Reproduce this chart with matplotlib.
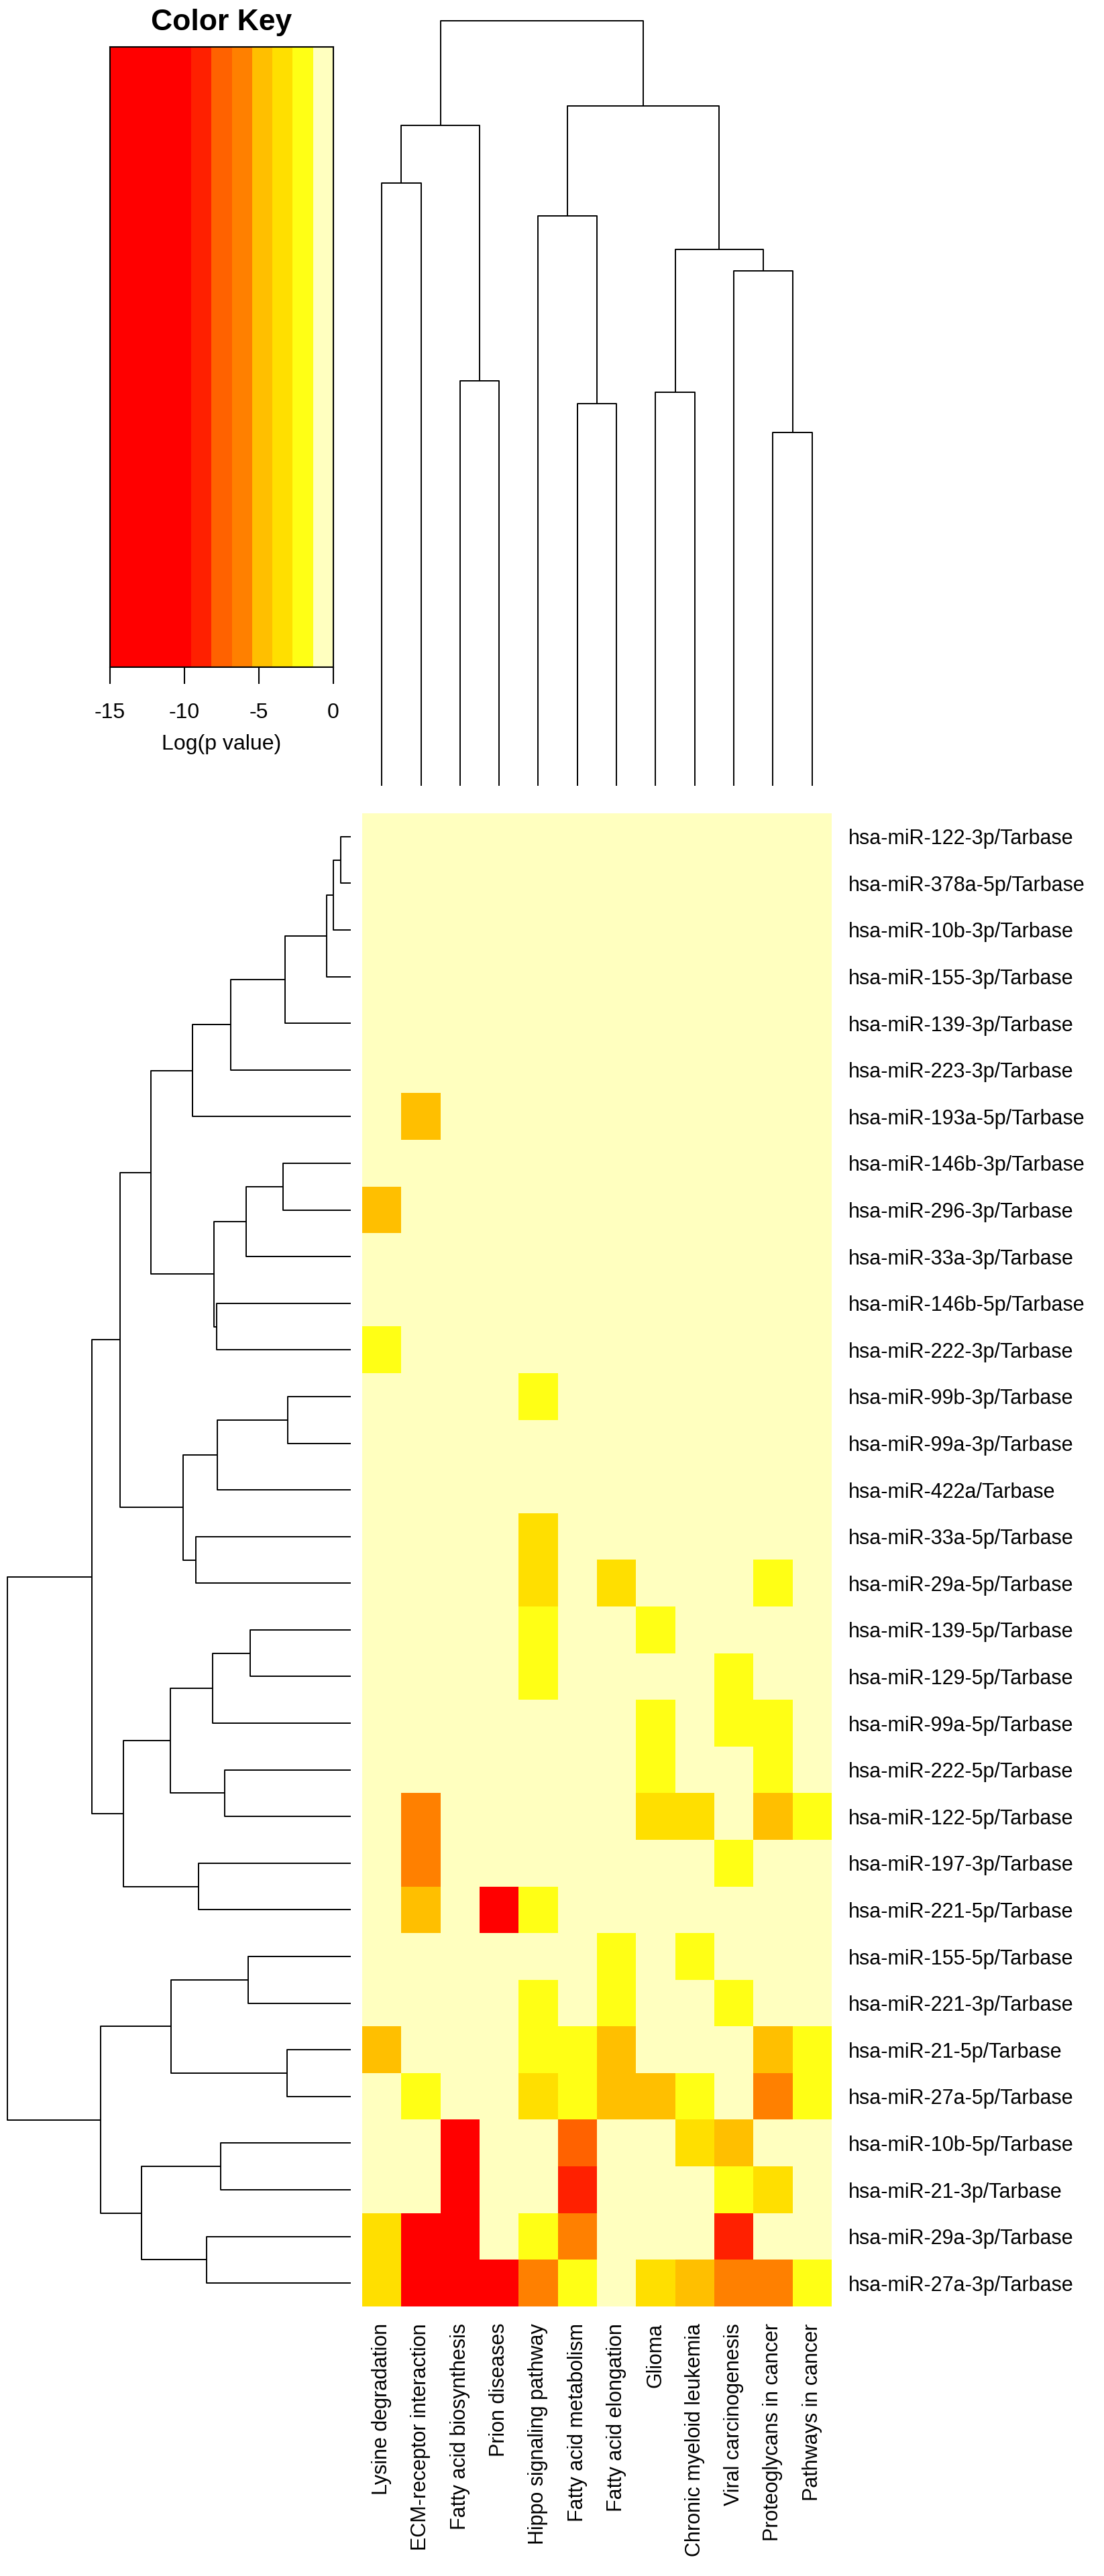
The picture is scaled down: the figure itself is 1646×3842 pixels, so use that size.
import numpy as np
import matplotlib
matplotlib.use('Agg')
import matplotlib.pyplot as plt
from matplotlib.colors import ListedColormap, BoundaryNorm

plt.rcParams['font.family'] = ['Liberation Sans', 'DejaVu Sans']

W, H = 1646, 3842

pathways = ['Lysine degradation', 'ECM-receptor interaction', 'Fatty acid biosynthesis',
            'Prion diseases', 'Hippo signaling pathway', 'Fatty acid metabolism',
            'Fatty acid elongation', 'Glioma', 'Chronic myeloid leukemia',
            'Viral carcinogenesis', 'Proteoglycans in cancer', 'Pathways in cancer']

mirnas = ['hsa-miR-122-3p/Tarbase', 'hsa-miR-378a-5p/Tarbase', 'hsa-miR-10b-3p/Tarbase',
          'hsa-miR-155-3p/Tarbase', 'hsa-miR-139-3p/Tarbase', 'hsa-miR-223-3p/Tarbase',
          'hsa-miR-193a-5p/Tarbase', 'hsa-miR-146b-3p/Tarbase', 'hsa-miR-296-3p/Tarbase',
          'hsa-miR-33a-3p/Tarbase', 'hsa-miR-146b-5p/Tarbase', 'hsa-miR-222-3p/Tarbase',
          'hsa-miR-99b-3p/Tarbase', 'hsa-miR-99a-3p/Tarbase', 'hsa-miR-422a/Tarbase',
          'hsa-miR-33a-5p/Tarbase', 'hsa-miR-29a-5p/Tarbase', 'hsa-miR-139-5p/Tarbase',
          'hsa-miR-129-5p/Tarbase', 'hsa-miR-99a-5p/Tarbase', 'hsa-miR-222-5p/Tarbase',
          'hsa-miR-122-5p/Tarbase', 'hsa-miR-197-3p/Tarbase', 'hsa-miR-221-5p/Tarbase',
          'hsa-miR-155-5p/Tarbase', 'hsa-miR-221-3p/Tarbase', 'hsa-miR-21-5p/Tarbase',
          'hsa-miR-27a-5p/Tarbase', 'hsa-miR-10b-5p/Tarbase', 'hsa-miR-21-3p/Tarbase',
          'hsa-miR-29a-3p/Tarbase', 'hsa-miR-27a-3p/Tarbase']

# log(p value), rows = mirnas, cols = pathways
log_p = [
    [-0.5, -0.5, -0.5, -0.5, -0.5, -0.5, -0.5, -0.5, -0.5, -0.5, -0.5, -0.5],
    [-0.5, -0.5, -0.5, -0.5, -0.5, -0.5, -0.5, -0.5, -0.5, -0.5, -0.5, -0.5],
    [-0.5, -0.5, -0.5, -0.5, -0.5, -0.5, -0.5, -0.5, -0.5, -0.5, -0.5, -0.5],
    [-0.5, -0.5, -0.5, -0.5, -0.5, -0.5, -0.5, -0.5, -0.5, -0.5, -0.5, -0.5],
    [-0.5, -0.5, -0.5, -0.5, -0.5, -0.5, -0.5, -0.5, -0.5, -0.5, -0.5, -0.5],
    [-0.5, -0.5, -0.5, -0.5, -0.5, -0.5, -0.5, -0.5, -0.5, -0.5, -0.5, -0.5],
    [-0.5, -4.8, -0.5, -0.5, -0.5, -0.5, -0.5, -0.5, -0.5, -0.5, -0.5, -0.5],
    [-0.5, -0.5, -0.5, -0.5, -0.5, -0.5, -0.5, -0.5, -0.5, -0.5, -0.5, -0.5],
    [-4.8, -0.5, -0.5, -0.5, -0.5, -0.5, -0.5, -0.5, -0.5, -0.5, -0.5, -0.5],
    [-0.5, -0.5, -0.5, -0.5, -0.5, -0.5, -0.5, -0.5, -0.5, -0.5, -0.5, -0.5],
    [-0.5, -0.5, -0.5, -0.5, -0.5, -0.5, -0.5, -0.5, -0.5, -0.5, -0.5, -0.5],
    [-2.0, -0.5, -0.5, -0.5, -0.5, -0.5, -0.5, -0.5, -0.5, -0.5, -0.5, -0.5],
    [-0.5, -0.5, -0.5, -0.5, -2.0, -0.5, -0.5, -0.5, -0.5, -0.5, -0.5, -0.5],
    [-0.5, -0.5, -0.5, -0.5, -0.5, -0.5, -0.5, -0.5, -0.5, -0.5, -0.5, -0.5],
    [-0.5, -0.5, -0.5, -0.5, -0.5, -0.5, -0.5, -0.5, -0.5, -0.5, -0.5, -0.5],
    [-0.5, -0.5, -0.5, -0.5, -3.4, -0.5, -0.5, -0.5, -0.5, -0.5, -0.5, -0.5],
    [-0.5, -0.5, -0.5, -0.5, -3.4, -0.5, -3.4, -0.5, -0.5, -0.5, -2.0, -0.5],
    [-0.5, -0.5, -0.5, -0.5, -2.0, -0.5, -0.5, -2.0, -0.5, -0.5, -0.5, -0.5],
    [-0.5, -0.5, -0.5, -0.5, -1.9, -0.5, -0.5, -0.5, -0.5, -2.0, -0.5, -0.5],
    [-0.5, -0.5, -0.5, -0.5, -0.5, -0.5, -0.5, -2.0, -0.5, -2.0, -1.9, -0.5],
    [-0.5, -0.5, -0.5, -0.5, -0.5, -0.5, -0.5, -1.9, -0.5, -0.5, -2.0, -0.5],
    [-0.5, -6.1, -0.5, -0.5, -0.5, -0.5, -0.5, -3.4, -3.4, -0.5, -4.8, -2.0],
    [-0.5, -6.1, -0.5, -0.5, -0.5, -0.5, -0.5, -0.5, -0.5, -1.9, -0.5, -0.5],
    [-0.5, -4.8, -0.5, -14.0, -2.0, -0.5, -0.5, -0.5, -0.5, -0.5, -0.5, -0.5],
    [-0.5, -0.5, -0.5, -0.5, -0.5, -0.5, -2.0, -0.5, -2.0, -0.5, -0.5, -0.5],
    [-0.5, -0.5, -0.5, -0.5, -2.0, -0.5, -2.1, -0.5, -0.5, -2.0, -0.5, -0.5],
    [-4.8, -0.5, -0.5, -0.5, -2.0, -2.1, -4.8, -0.5, -0.5, -0.5, -4.8, -2.1],
    [-0.5, -2.1, -0.5, -0.5, -3.5, -2.0, -4.7, -4.7, -2.0, -0.5, -5.6, -2.1],
    [-0.5, -0.5, -14.0, -0.5, -0.5, -7.5, -0.5, -0.5, -3.5, -4.9, -0.5, -0.5],
    [-0.5, -0.5, -14.0, -0.5, -0.5, -8.9, -0.5, -0.5, -0.5, -2.2, -3.4, -0.5],
    [-3.5, -14.0, -14.0, -0.5, -2.0, -5.6, -0.5, -0.5, -0.5, -8.9, -0.5, -0.5],
    [-3.4, -14.0, -14.0, -14.0, -6.1, -2.0, -0.5, -3.4, -4.8, -6.2, -6.1, -2.0],
]

# colour key: 11 equal bins from -15 to 0
breaks = np.linspace(-15, 0, 12)
key_colors = ['#FF0000', '#FF0000', '#FF0000', '#FF0000', '#FF2000', '#FF6200',
              '#FF8000', '#FFBF00', '#FFDF00', '#FFFF15', '#FFFFBF']
key_ticks = [-15, -10, -5, 0]

# dendrograms: (child a, child b, height); leaves numbered in display order
col_merges = [(0, 1, 1171), (2, 3, 787), (12, 13, 1284), (5, 6, 743), (4, 15, 1108),
              (7, 8, 765), (10, 11, 687), (9, 18, 1001), (17, 19, 1043), (16, 20, 1321),
              (14, 21, 1487)]
row_merges = [(0, 1, 42), (32, 2, 74), (33, 3, 105), (34, 4, 284), (35, 5, 517),
              (36, 6, 682), (7, 8, 292), (38, 9, 452), (10, 11, 577), (39, 40, 590),
              (37, 41, 862), (12, 13, 272), (43, 14, 574), (15, 16, 667), (44, 45, 724),
              (42, 46, 994), (17, 18, 435), (48, 19, 596), (20, 21, 544), (49, 50, 777),
              (22, 23, 655), (51, 52, 979), (47, 53, 1117), (24, 25, 442), (26, 27, 275),
              (55, 56, 774), (28, 29, 562), (30, 31, 621), (58, 59, 902), (57, 60, 1079),
              (54, 61, 1480)]

cmap = ListedColormap(key_colors)
norm = BoundaryNorm(breaks, cmap.N)


def add_ax(x0, y0, x1, y1):
    return fig.add_axes([x0 / W, 1 - y1 / H, (x1 - x0) / W, (y1 - y0) / H])


def draw_dendro(ax, merges, n, orient):
    pos = [float(i) for i in range(n)]
    hgt = [0.0] * n
    for a, b, h in merges:
        xs = [pos[a], pos[a], pos[b], pos[b]]
        ys = [hgt[a], h, h, hgt[b]]
        if orient == 'top':
            ax.plot(xs, ys, color='black', lw=1.4, clip_on=False, solid_capstyle='butt')
        else:
            ax.plot(ys, xs, color='black', lw=1.4, clip_on=False, solid_capstyle='butt')
        pos.append((pos[a] + pos[b]) / 2)
        hgt.append(h)


fig = plt.figure(figsize=(W / 100, H / 100), dpi=100)

# heatmap
hm_x0, hm_y0, hm_x1, hm_y1 = 540, 1213, 1240, 3440
ax = add_ax(hm_x0, hm_y0, hm_x1, hm_y1)
ax.imshow(np.array(log_p), cmap=cmap, norm=norm, aspect='auto', interpolation='nearest')
for s in ax.spines.values():
    s.set_visible(False)
ax.yaxis.tick_right()
ax.set_yticks(range(len(mirnas)))
ax.set_yticklabels(mirnas, fontsize=22)
ax.set_xticks(range(len(pathways)))
ax.set_xticklabels(pathways, fontsize=22, rotation=90)
ax.tick_params(length=0, pad=18)

# column dendrogram
leaf_px, root_px, top_px, bot_px = 1172, 31, 20, 1175
sc = (leaf_px - root_px) / col_merges[-1][2]
axc = add_ax(hm_x0, top_px, hm_x1, bot_px)
draw_dendro(axc, col_merges, len(pathways), 'top')
axc.set_xlim(-0.5, len(pathways) - 0.5)
axc.set_ylim(-(bot_px - leaf_px) / sc, (leaf_px - top_px) / sc)
axc.axis('off')

# row dendrogram
leaf_px, root_px, r_x0, r_x1 = 523, 11, 0, 530
sc = (leaf_px - root_px) / row_merges[-1][2]
axr = add_ax(r_x0, hm_y0, r_x1, hm_y1)
draw_dendro(axr, row_merges, len(mirnas), 'left')
axr.set_ylim(len(mirnas) - 0.5, -0.5)
axr.set_xlim((leaf_px - r_x0) / sc, -(r_x1 - leaf_px) / sc)
axr.axis('off')

# colour key
axk = add_ax(164, 70, 497, 995)
mids = (breaks[:-1] + breaks[1:]) / 2
axk.pcolormesh(breaks, [0, 1], mids[None, :], cmap=cmap, norm=norm)
axk.set_xlim(-15, 0)
axk.set_ylim(0, 1)
axk.set_yticks([])
axk.set_xticks(key_ticks)
axk.set_xticklabels([str(t) for t in key_ticks])
axk.tick_params(axis='x', length=18, width=1.5, labelsize=23, pad=20)
for s in axk.spines.values():
    s.set_linewidth(1.5)
axk.set_title('Color Key', fontsize=32, fontweight='bold', pad=18)
fig.text(330 / W, 1 - 1110 / H, 'Log(p value)', fontsize=23, ha='center', va='center')

fig.savefig('out.png', dpi=100)
